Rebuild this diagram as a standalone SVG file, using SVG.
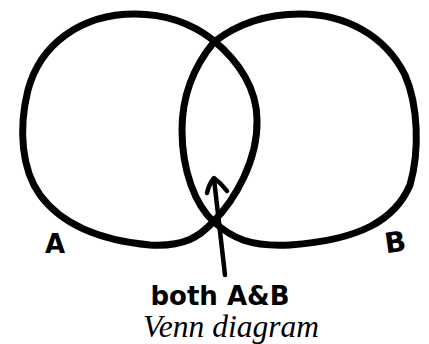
<svg xmlns="http://www.w3.org/2000/svg" width="429" height="344" viewBox="0 0 429 344">
<style>
.ring{fill:none;stroke:#000;stroke-width:7;stroke-linejoin:round;stroke-linecap:round}
.arrow{fill:none;stroke:#000;stroke-width:4.5;stroke-linecap:round;stroke-linejoin:round}
.hand{font-family:"DejaVu Sans",sans-serif;font-weight:bold;fill:#000}
.cap{font-family:"Liberation Serif",serif;font-style:italic;fill:#000}
</style>
<rect width="429" height="344" fill="#fff"/>
<g id="setA">
<path class="ring" d="M213,40 C195,26 170,14 135,14 C80,14 40,45 28,90 C18,130 22,170 40,195 C60,222 95,240 150,245 C185,247 200,236 213,222 C235,200 258,160 257,120 C257,90 240,62 213,40 Z"/>
<text class="hand" x="55" y="253" font-size="26" text-anchor="middle">A</text>
</g>
<g id="setB">
<path class="ring" d="M214,42 C232,28 258,14 300,14 C345,14 385,35 405,75 C418,105 420,150 410,185 C395,220 360,240 290,245 C250,247 232,238 214,222 C195,205 182,170 182,130 C182,95 195,65 214,42 Z"/>
<text class="hand" x="395" y="252" font-size="28" text-anchor="middle" transform="rotate(-8 395 240)">B</text>
</g>
<g id="connectors">
<path class="arrow" d="M225,275 L214,179"/>
<path class="arrow" d="M207,193 Q209,184 214,178 Q221,183 227,191"/>
</g>
<g id="label">
<text class="hand" x="220" y="305" font-size="26" text-anchor="middle">both A&amp;B</text>
</g>
<text class="cap" x="231" y="337" font-size="31.5" text-anchor="middle">Venn diagram</text>
</svg>
